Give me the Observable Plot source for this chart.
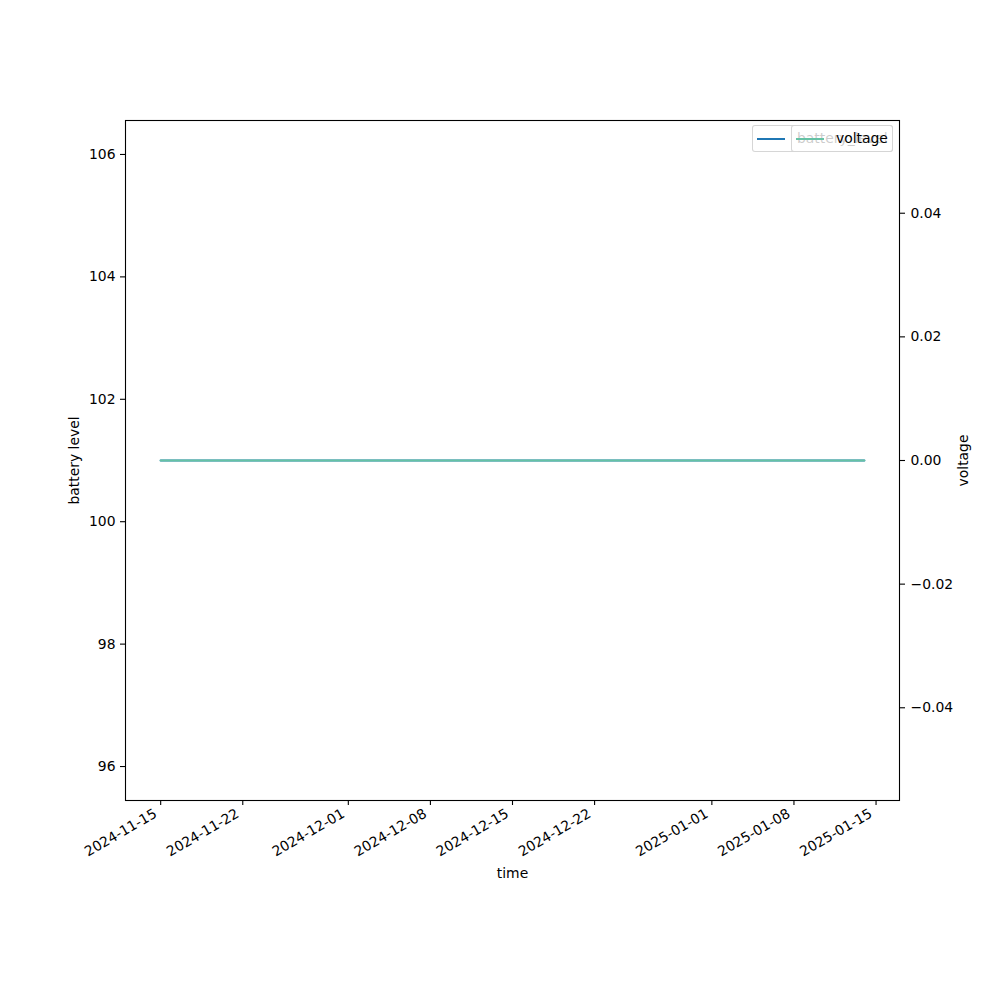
<!DOCTYPE html>
<html>
<head>
<meta charset="utf-8">
<script src="https://cdn.jsdelivr.net/npm/d3@7"></script>
<script src="https://cdn.jsdelivr.net/npm/@observablehq/plot@0.6"></script>
<style>
  body { margin: 0; background: #fff; }
  #wrap { position: relative; width: 1000px; height: 1000px; font-family: "DejaVu Sans", sans-serif; }
  #wrap > svg { position: absolute; left: 0; top: 0; }
  .leg { position: absolute; box-sizing: border-box; height: 27px; top: 125px;
         border: 1px solid rgba(204,204,204,0.8); border-radius: 3px;
         background: rgba(255,255,255,0.8); font-size: 13.9px; color: #000; white-space: nowrap; }
  .leg .h { position: absolute; top: 12px; width: 28px; height: 0; border-top: 2px solid; }
  .leg .t { position: absolute; top: 4px; line-height: 16px; }
</style>
</head>
<body>
<div id="wrap"></div>
<script>
// ---- data ----
const times = ["2024-11-15", "2024-11-22", "2024-11-29", "2024-12-06", "2024-12-13",
               "2024-12-20", "2024-12-27", "2025-01-03", "2025-01-10", "2025-01-14"];
const batteryLevel = [101, 101, 101, 101, 101, 101, 101, 101, 101, 101];
const voltage = [0, 0, 0, 0, 0, 0, 0, 0, 0, 0];
const xTickLabels = ["2024-11-15", "2024-11-22", "2024-12-01", "2024-12-08", "2024-12-15",
                     "2024-12-22", "2025-01-01", "2025-01-08", "2025-01-15"];
const batteryTicks = [96, 98, 100, 102, 104, 106];
const voltageTicks = [-0.04, -0.02, 0.00, 0.02, 0.04];
const batteryDomain = [95.445, 106.555];
const voltageDomain = [-0.055, 0.055];
const seriesNames = ["battery_level", "voltage"];
const seriesColors = ["#1f77b4", "#66c2a5"];

// ---- build ----
const data = times.map((t, i) => ({ time: new Date(t), battery: batteryLevel[i], voltage: voltage[i] }));
const ext = d3.extent(data, d => +d.time);
const pad = (ext[1] - ext[0]) * 0.05;
const xDomain = [new Date(ext[0] - pad), new Date(ext[1] + pad)];
const xTicks = xTickLabels.map(d => new Date(d));
const fmt = d3.utcFormat("%Y-%m-%d");

const common = {
  width: 1000, height: 1000,
  marginLeft: 125, marginRight: 101, marginTop: 120, marginBottom: 200,
  style: { fontFamily: "DejaVu Sans", fontSize: "13.9px", background: "transparent", color: "#000", overflow: "visible" }
};

const plot1 = Plot.plot({
  ...common,
  x: { type: "utc", domain: xDomain },
  y: { domain: batteryDomain },
  marks: [
    // tick marks only
    Plot.axisX(xTicks, { tickFormat: () => "", tickSize: 5, strokeWidth: 1.1, label: null }),
    // rotated tick labels + axis label
    Plot.axisX(xTicks, { tickFormat: fmt, tickRotate: -30, tickSize: 0, tickPadding: 12, dx: -5,
      label: "time", labelAnchor: "center", labelArrow: "none", labelOffset: 77 }),
    Plot.axisY(batteryTicks, { tickSize: 5, tickPadding: 5, strokeWidth: 1.1, tickFormat: d => String(d),
      label: "battery level", labelAnchor: "center", labelArrow: "none", labelOffset: 56 }),
    Plot.lineY(data, { x: "time", y: "battery", stroke: seriesColors[0], strokeWidth: 2.08 }),
    Plot.frame({ stroke: "#000", strokeWidth: 1.1 })
  ]
});

const plot2 = Plot.plot({
  ...common,
  x: { type: "utc", domain: xDomain, axis: null },
  y: { domain: voltageDomain },
  marks: [
    Plot.axisY(voltageTicks, { anchor: "right", tickSize: 5, tickPadding: 6, strokeWidth: 1.1,
      tickFormat: d => d.toFixed(2).replace("-", "\u2212"),
      label: "voltage", labelAnchor: "center", labelArrow: "none", labelOffset: 68 }),
    Plot.lineY(data, { x: "time", y: "voltage", stroke: seriesColors[1], strokeWidth: 2.08 })
  ]
});

function legend(left, width, color, name, textLeft) {
  const div = document.createElement("div");
  div.className = "leg";
  div.style.left = left + "px";
  div.style.width = width + "px";
  const h = document.createElement("div");
  h.className = "h";
  h.style.left = "4px";
  h.style.borderTopColor = color;
  const t = document.createElement("div");
  t.className = "t";
  t.style.left = textLeft + "px";
  t.textContent = name;
  div.append(h, t);
  return div;
}

const wrap = document.getElementById("wrap");
wrap.append(plot1);
wrap.append(legend(752, 141, seriesColors[0], seriesNames[0], 44));
wrap.append(plot2);
wrap.append(legend(791, 102, seriesColors[1], seriesNames[1], 44));
</script>
</body>
</html>
